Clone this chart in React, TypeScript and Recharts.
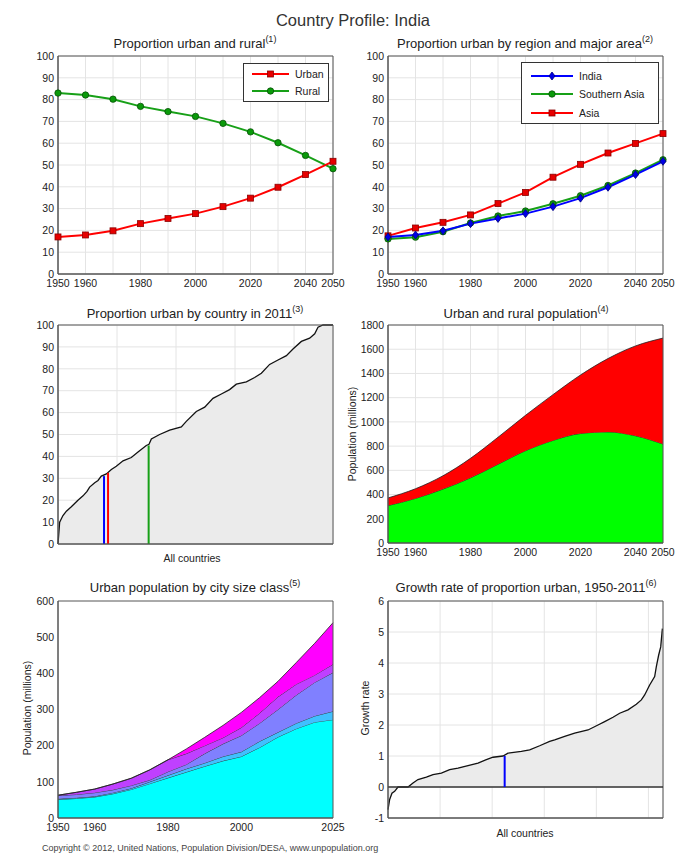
import React from 'react';
import {
  LineChart,
  Line,
  AreaChart,
  Area,
  XAxis,
  YAxis,
  CartesianGrid,
  ReferenceLine,
  ReferenceArea,
} from 'recharts';

const FONT = '"Liberation Sans", Arial, sans-serif';

// (1) and (2): proportion urban, by decade
const years = [1950, 1960, 1970, 1980, 1990, 2000, 2010, 2020, 2030, 2040, 2050];
const labelledYears = [1950, 1960, 1980, 2000, 2020, 2040, 2050];
const urbanPct = [17.0, 17.9, 19.8, 23.1, 25.5, 27.7, 30.9, 34.8, 39.8, 45.6, 51.7];
const ruralPct = [83.0, 82.1, 80.2, 76.9, 74.5, 72.3, 69.1, 65.2, 60.2, 54.4, 48.3];
const southernAsiaPct = [16.1, 16.9, 19.4, 23.4, 26.6, 28.9, 32.2, 35.9, 40.6, 46.3, 52.4];
const asiaPct = [17.5, 21.1, 23.7, 27.1, 32.3, 37.4, 44.4, 50.3, 55.5, 59.9, 64.4];
const pctTicks = [0, 10, 20, 30, 40, 50, 60, 70, 80, 90, 100];

// (3): proportion urban of all countries, sorted
const countryRank = [0, 1.4, 4.2, 7.1, 11.3, 16.9, 21.2, 24.6, 26.8, 31.1, 33.9, 36.7, 41, 45.2, 49.4, 55.1, 62.1, 67.8, 74.8, 77.1, 79.1, 86.1, 94.6, 104.5, 108.7, 117.2, 124.3, 131.3, 138.4, 145.4, 151.1, 159.6, 166.6, 172.3, 179.3, 186.4, 193.5, 199.1, 206.2, 213.2, 217.5, 220.3, 224.5, 233];
const countryPct = [0, 10, 13, 15, 17, 20, 22, 24, 26, 28, 29, 31, 32, 34, 35.5, 38, 39.5, 42, 45, 45.5, 48, 50, 52, 53.5, 56, 60.5, 62.5, 66.5, 68.5, 70.5, 73, 74, 76, 78, 82, 84, 86, 89, 92.5, 94, 96, 99, 100, 100];
const highlightRank = [39, 42.4, 76.8];
const highlightPct = [31, 32.5, 45];

// (4): population, millions
const ruralPop = [309, 368, 445, 538, 650, 762, 847, 904, 917, 885, 817];
const urbanPop = [63, 80, 110, 161, 223, 292, 378, 483, 606, 742, 875];

// (5): urban population by city size class, millions
const sizeYears = [1950, 1955, 1960, 1965, 1970, 1975, 1980, 1985, 1990, 1995, 2000, 2005, 2010, 2015, 2020, 2025];
const under500k = [51, 54, 58, 67, 79, 95, 111, 127, 143, 158, 170, 195, 224, 247, 265, 272];
const from500kTo1m = [2, 2, 2, 3, 3, 5, 7, 9, 9, 12, 13, 17, 13, 15, 17, 23];
const from1To5m = [9, 9, 10, 8, 8, 5, 10, 12, 26, 35, 45, 50, 63, 78, 93, 107];
const from5To10m = [1, 6, 10, 16, 20, 28, 33, 30, 22, 17, 22, 28, 35, 30, 20, 23];
const over10m = [0, 0, 0, 0, 0, 0, 0, 13, 23, 34, 42, 43, 43, 60, 88, 115];

// (6): growth rate of proportion urban, sorted
const growthRank = [0, 1.6, 3.8, 6.4, 9.6, 19.2, 24, 28.8, 36.8, 43.2, 51.2, 59.2, 67.2, 76.8, 86.4, 94.4, 100.8, 110.4, 115.2, 128, 136, 145.6, 155.2, 160, 169.6, 179.2, 192, 201.6, 208, 216, 222.4, 230.4, 238.4, 243.2, 246.4, 251.2, 256, 257.6, 259.8, 261.8, 263.4];
const growthRate = [-0.73, -0.4, -0.2, -0.14, 0, 0, 0.13, 0.24, 0.32, 0.4, 0.45, 0.56, 0.61, 0.69, 0.77, 0.88, 0.96, 1.0, 1.09, 1.15, 1.2, 1.33, 1.47, 1.52, 1.63, 1.74, 1.84, 2.0, 2.11, 2.25, 2.38, 2.49, 2.67, 2.81, 2.97, 3.29, 3.56, 3.88, 4.25, 4.52, 5.11];
const indiaRank = 112;
const indiaRate = 1.0;

const pctData = years.map((y, i) => ({
  year: y,
  urban: urbanPct[i],
  rural: ruralPct[i],
  india: urbanPct[i],
  southernAsia: southernAsiaPct[i],
  asia: asiaPct[i],
}));
const countryData = countryRank.map((r, i) => ({ rank: r, pct: countryPct[i] }));
const popData = years.map((y, i) => ({ year: y, rural: ruralPop[i], urban: urbanPop[i] }));
const sizeData = sizeYears.map((y, i) => ({
  year: y,
  a: under500k[i],
  b: from500kTo1m[i],
  c: from1To5m[i],
  d: from5To10m[i],
  e: over10m[i],
}));
const growthData = growthRank.map((r, i) => ({ rank: r, rate: growthRate[i] }));

const tick = { fontSize: 10.5, fill: '#222', fontFamily: FONT };
const GRID = '#e4e4e4';
const BOX = '#555';
const decadeLabel = (v: number) => (labelledYears.includes(v) ? String(v) : '');

const square = (fill: string, stroke: string) => (p: any) => (
  <rect key={`s${p.index}`} x={p.cx - 3} y={p.cy - 3} width={6} height={6} fill={fill} stroke={stroke} strokeWidth={0.8} />
);
const circle = (fill: string, stroke: string) => (p: any) => (
  <circle key={`c${p.index}`} cx={p.cx} cy={p.cy} r={3.2} fill={fill} stroke={stroke} strokeWidth={0.8} />
);
const diamond = (fill: string, stroke: string) => (p: any) => (
  <polygon
    key={`d${p.index}`}
    points={`${p.cx},${p.cy - 4} ${p.cx + 3},${p.cy} ${p.cx},${p.cy + 4} ${p.cx - 3},${p.cy}`}
    fill={fill}
    stroke={stroke}
    strokeWidth={0.8}
  />
);

const RED = '#ff0000';
const GREEN = '#17a017';
const BLUE = '#0000ff';

function Title({ cx, cy, text, note }: { cx: number; cy: number; text: string; note: string }) {
  return (
    <div style={{ position: 'absolute', left: cx - 170, width: 340, top: cy - 7, textAlign: 'center', fontSize: 13, lineHeight: '15px', whiteSpace: 'nowrap' }}>
      {text}
      <span style={{ fontSize: 9, position: 'relative', top: -6 }}>{note}</span>
    </div>
  );
}

function YLabel({ cx, cy, text }: { cx: number; cy: number; text: string }) {
  return (
    <div style={{ position: 'absolute', left: cx, top: cy, transform: 'translate(-50%, -50%) rotate(-90deg)', fontSize: 10.5, lineHeight: '12px', whiteSpace: 'nowrap' }}>
      {text}
    </div>
  );
}

function XLabel({ cx, cy, text }: { cx: number; cy: number; text: string }) {
  return (
    <div style={{ position: 'absolute', left: cx, top: cy, transform: 'translate(-50%, -50%)', fontSize: 10.5, lineHeight: '12px', whiteSpace: 'nowrap' }}>
      {text}
    </div>
  );
}

type LegendRow = { label: string; color: string; marker: (p: any) => React.ReactElement };

function LegendBox({ left, top, width, height, rows, lineX, lineW, textX, rowY }: {
  left: number; top: number; width: number; height: number; rows: LegendRow[];
  lineX: number; lineW: number; textX: number; rowY: number[];
}) {
  return (
    <div style={{ position: 'absolute', left, top, width, height, border: '1px solid #333', background: '#fff', boxSizing: 'border-box' }}>
      {rows.map((r, i) => (
        <React.Fragment key={r.label}>
          <svg style={{ position: 'absolute', left: lineX, top: rowY[i] - 6 }} width={lineW} height={12}>
            <line x1={0} y1={6} x2={lineW} y2={6} stroke={r.color} strokeWidth={2} />
            {r.marker({ cx: lineW / 2, cy: 6, index: i })}
          </svg>
          <div style={{ position: 'absolute', left: textX, top: rowY[i] - 6, fontSize: 10.5, lineHeight: '12px', whiteSpace: 'nowrap' }}>{r.label}</div>
        </React.Fragment>
      ))}
    </div>
  );
}

export default function App() {
  return (
    <div style={{ position: 'absolute', left: 0, top: 0, width: 675, height: 854, background: '#fff', fontFamily: FONT, color: '#222', overflow: 'hidden' }}>
      <div style={{ position: 'absolute', left: 0, width: 706, top: 11, textAlign: 'center', fontSize: 16.5, lineHeight: '19px', color: '#333' }}>
        Country Profile: India
      </div>

      {/* (1) */}
      <Title cx={195} cy={43} text="Proportion urban and rural" note="(1)" />
      <div style={{ position: 'absolute', left: 0, top: 50 }}>
        <LineChart width={345} height={245} data={pctData} margin={{ top: 6, right: 12, left: 0, bottom: 0 }}>
          <CartesianGrid stroke={GRID} />
          <XAxis dataKey="year" type="number" domain={[1950, 2050]} ticks={years} interval={0} tickFormatter={decadeLabel} tick={tick} tickLine={false} tickSize={3} tickMargin={3} height={21} stroke={BOX} />
          <YAxis type="number" domain={[0, 100]} ticks={pctTicks} interval={0} tick={tick} tickLine={false} tickSize={2} tickMargin={2} width={58} stroke={BOX} />
          <ReferenceArea x1={1950} x2={2050} y1={0} y2={100} fill="none" stroke={BOX} />
          <Line dataKey="rural" stroke={GREEN} strokeWidth={2} dot={circle('#0a9a0a', '#075207')} activeDot={false} isAnimationActive={false} />
          <Line dataKey="urban" stroke={RED} strokeWidth={2} dot={square('#e60000', '#8a0000')} activeDot={false} isAnimationActive={false} />
        </LineChart>
      </div>
      <LegendBox
        left={243} top={63} width={86} height={39}
        lineX={8} lineW={37} textX={51} rowY={[10, 27]}
        rows={[
          { label: 'Urban', color: RED, marker: square('#e60000', '#8a0000') },
          { label: 'Rural', color: GREEN, marker: circle('#0a9a0a', '#075207') },
        ]}
      />

      {/* (2) */}
      <Title cx={525} cy={43} text="Proportion urban by region and major area" note="(2)" />
      <div style={{ position: 'absolute', left: 330, top: 50 }}>
        <LineChart width={345} height={245} data={pctData} margin={{ top: 6, right: 12, left: 0, bottom: 0 }}>
          <CartesianGrid stroke={GRID} />
          <XAxis dataKey="year" type="number" domain={[1950, 2050]} ticks={years} interval={0} tickFormatter={decadeLabel} tick={tick} tickLine={false} tickSize={3} tickMargin={3} height={21} stroke={BOX} />
          <YAxis type="number" domain={[0, 100]} ticks={pctTicks} interval={0} tick={tick} tickLine={false} tickSize={2} tickMargin={2} width={58} stroke={BOX} />
          <ReferenceArea x1={1950} x2={2050} y1={0} y2={100} fill="none" stroke={BOX} />
          <Line dataKey="asia" stroke={RED} strokeWidth={2} dot={square('#e60000', '#8a0000')} activeDot={false} isAnimationActive={false} />
          <Line dataKey="southernAsia" stroke={GREEN} strokeWidth={2} dot={circle('#0a9a0a', '#075207')} activeDot={false} isAnimationActive={false} />
          <Line dataKey="india" stroke={BLUE} strokeWidth={2} dot={diamond('#0000e6', '#00007a')} activeDot={false} isAnimationActive={false} />
        </LineChart>
      </div>
      <LegendBox
        left={521} top={62} width={138} height={62}
        lineX={9} lineW={42} textX={57} rowY={[13, 31, 50]}
        rows={[
          { label: 'India', color: BLUE, marker: diamond('#0000e6', '#00007a') },
          { label: 'Southern Asia', color: GREEN, marker: circle('#0a9a0a', '#075207') },
          { label: 'Asia', color: RED, marker: square('#e60000', '#8a0000') },
        ]}
      />

      {/* (3) */}
      <Title cx={195} cy={313} text="Proportion urban by country in 2011" note="(3)" />
      <div style={{ position: 'absolute', left: 0, top: 319 }}>
        <AreaChart width={345} height={245} data={countryData} margin={{ top: 6, right: 12, left: 0, bottom: 0 }}>
          <CartesianGrid stroke={GRID} />
          <XAxis dataKey="rank" type="number" domain={[0, 233]} ticks={[50, 100, 150, 200]} tickFormatter={() => ''} tick={tick} tickLine={false} height={20} stroke={BOX} />
          <YAxis type="number" domain={[0, 100]} ticks={pctTicks} interval={0} tick={tick} tickLine={false} tickSize={2} tickMargin={2} width={58} stroke={BOX} />
          <Area dataKey="pct" type="linear" stroke="#111" strokeWidth={1.3} fill="#ebebeb" fillOpacity={1} activeDot={false} isAnimationActive={false} />
          {highlightRank.map((r, i) => (
            <ReferenceLine
              key={r}
              segment={[{ x: r, y: 0 }, { x: r, y: highlightPct[i] }]}
              stroke={[BLUE, RED, GREEN][i]}
              strokeWidth={2}
            />
          ))}
          <ReferenceArea x1={0} x2={233} y1={0} y2={100} fill="none" stroke={BOX} />
        </AreaChart>
      </div>
      <XLabel cx={192} cy={558} text="All countries" />

      {/* (4) */}
      <Title cx={526} cy={313} text="Urban and rural population" note="(4)" />
      <div style={{ position: 'absolute', left: 330, top: 319 }}>
        <AreaChart width={345} height={245} data={popData} margin={{ top: 6, right: 12, left: 0, bottom: 0 }}>
          <CartesianGrid stroke={GRID} />
          <XAxis dataKey="year" type="number" domain={[1950, 2050]} ticks={years} interval={0} tickFormatter={decadeLabel} tick={tick} tickLine={false} tickSize={3} tickMargin={3} height={21} stroke={BOX} />
          <YAxis type="number" domain={[0, 1800]} ticks={[0, 200, 400, 600, 800, 1000, 1200, 1400, 1600, 1800]} interval={0} tick={tick} tickLine={false} tickSize={2} tickMargin={2} width={58} stroke={BOX} />
          <Area dataKey="rural" stackId="p" type="monotone" stroke="#222" strokeWidth={0.8} fill="#00ff00" fillOpacity={1} activeDot={false} isAnimationActive={false} />
          <Area dataKey="urban" stackId="p" type="monotone" stroke="#222" strokeWidth={0.8} fill="#ff0000" fillOpacity={1} activeDot={false} isAnimationActive={false} />
          <ReferenceArea x1={1950} x2={2050} y1={0} y2={1800} fill="none" stroke={BOX} />
        </AreaChart>
      </div>
      <YLabel cx={352} cy={434} text="Population (millions)" />

      {/* (5) */}
      <Title cx={195} cy={587} text="Urban population by city size class" note="(5)" />
      <div style={{ position: 'absolute', left: 0, top: 595 }}>
        <AreaChart width={345} height={245} data={sizeData} margin={{ top: 6, right: 12, left: 0, bottom: 0 }}>
          <XAxis dataKey="year" type="number" domain={[1950, 2025]} ticks={[1950, 1960, 1980, 2000, 2025]} interval={0} tick={tick} tickLine={false} tickSize={3} tickMargin={3} height={22} stroke={BOX} />
          <YAxis type="number" domain={[0, 600]} ticks={[0, 100, 200, 300, 400, 500, 600]} interval={0} tick={tick} tickLine={false} tickSize={2} tickMargin={2} width={58} stroke={BOX} />
          <Area dataKey="a" stackId="s" type="linear" stroke="#222" strokeWidth={0.8} fill="#00ffff" fillOpacity={1} activeDot={false} isAnimationActive={false} />
          <Area dataKey="b" stackId="s" type="linear" stroke="#222" strokeWidth={0.8} fill="#40c0ff" fillOpacity={1} activeDot={false} isAnimationActive={false} />
          <Area dataKey="c" stackId="s" type="linear" stroke="#222" strokeWidth={0.8} fill="#8080ff" fillOpacity={1} activeDot={false} isAnimationActive={false} />
          <Area dataKey="d" stackId="s" type="linear" stroke="#222" strokeWidth={0.8} fill="#bf40ff" fillOpacity={1} activeDot={false} isAnimationActive={false} />
          <Area dataKey="e" stackId="s" type="linear" stroke="#222" strokeWidth={0.8} fill="#ff00ff" fillOpacity={1} activeDot={false} isAnimationActive={false} />
          <ReferenceArea x1={1950} x2={2025} y1={0} y2={600} fill="none" stroke={BOX} />
        </AreaChart>
      </div>
      <YLabel cx={27} cy={708} text="Population (millions)" />

      {/* (6) */}
      <Title cx={526} cy={587} text="Growth rate of proportion urban, 1950-2011" note="(6)" />
      <div style={{ position: 'absolute', left: 330, top: 595 }}>
        <AreaChart width={345} height={245} data={growthData} margin={{ top: 6, right: 12, left: 0, bottom: 0 }}>
          <CartesianGrid stroke={GRID} />
          <XAxis dataKey="rank" type="number" domain={[0, 264]} ticks={[50, 100, 150, 200, 250]} tickFormatter={() => ''} tick={tick} tickLine={false} height={22} stroke={BOX} />
          <YAxis type="number" domain={[-1, 6]} ticks={[-1, 0, 1, 2, 3, 4, 5, 6]} interval={0} tick={tick} tickLine={false} tickSize={2} tickMargin={2} width={58} stroke={BOX} />
          <Area dataKey="rate" type="linear" stroke="#111" strokeWidth={1.3} fill="#ebebeb" fillOpacity={1} activeDot={false} isAnimationActive={false} />
          <ReferenceLine y={0} stroke="#333" strokeWidth={1.5} />
          <ReferenceLine segment={[{ x: indiaRank, y: 0 }, { x: indiaRank, y: indiaRate }]} stroke={BLUE} strokeWidth={2} />
          <ReferenceArea x1={0} x2={264} y1={-1} y2={6} fill="none" stroke={BOX} />
        </AreaChart>
      </div>
      <YLabel cx={365} cy={708} text="Growth rate" />
      <XLabel cx={525} cy={833} text="All countries" />

      <div style={{ position: 'absolute', left: 42, top: 843, fontSize: 9, lineHeight: '10px', color: '#444', whiteSpace: 'nowrap' }}>
        Copyright © 2012, United Nations, Population Division/DESA, www.unpopulation.org
      </div>
    </div>
  );
}
